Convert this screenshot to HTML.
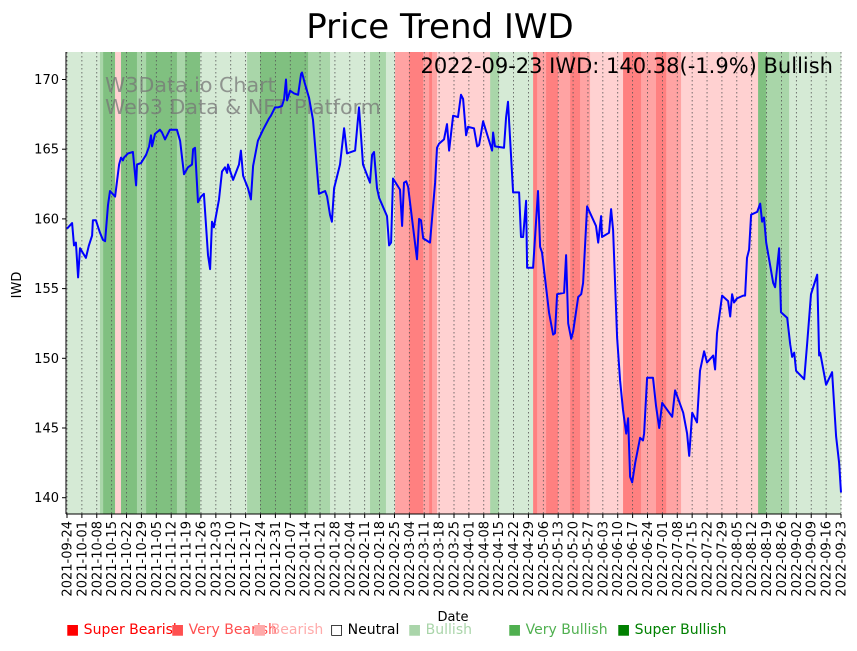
<!DOCTYPE html>
<html><head><meta charset="utf-8"><style>
body{margin:0;background:#fff;width:857px;height:646px;overflow:hidden;font-family:"Liberation Sans","DejaVu Sans",sans-serif}
svg text{font-family:"DejaVu Sans","Liberation Sans",sans-serif}
</style></head><body>
<svg id="chart" width="857" height="646" xmlns="http://www.w3.org/2000/svg">
<g id="bands"></g>
<g id="grid"></g>
<g fill="#777" fill-opacity="0.75" font-size="20.6">
<text x="105" y="92">W3Data.io Chart</text>
<text x="105" y="114">Web3 Data &amp; NFT Platform</text>
</g>
<path id="line" fill="none" stroke="#0000ff" stroke-width="2" stroke-linejoin="round"></path>
<g id="axes"></g>
<text x="440" y="38" text-anchor="middle" font-size="34">Price Trend IWD</text>
<text x="833" y="73" text-anchor="end" font-size="21">2022-09-23 IWD: 140.38(-1.9%) Bullish</text>
<text x="21" y="285" text-anchor="middle" font-size="13" transform="rotate(-90 21 285)">IWD</text>
<text x="453" y="621" text-anchor="middle" font-size="13">Date</text>
<g font-size="14">
<text x="66" y="634" fill="#ff0000">■ Super Bearish</text>
<text x="171" y="634" fill="#ff5050">■ Very Bearish</text>
<text x="253" y="634" fill="#ffaaaa">■ Bearish</text>
<text x="330" y="634" fill="#000">□ Neutral</text>
<text x="408" y="634" fill="#aad5aa">■ Bullish</text>
<text x="508" y="634" fill="#50b050">■ Very Bullish</text>
<text x="617" y="634" fill="#008000">■ Super Bullish</text>
</g>
</svg>
<script>
const days=[0,2.4,3.3,4.2,5.2,6.1,8.9,10.3,11.8,12.2,13.6,15.5,16.9,17.9,19.3,20.2,22.6,24.5,25.4,26.3,26.8,28.7,31,32.5,32.9,34.8,37.2,38.6,39.5,40,41.4,43.7,44.7,46.1,48.4,51.7,53.2,55,56.9,58.8,59.3,60.2,61.6,63,64.4,66.3,67.3,68.2,69.1,71.5,72.9,74.3,75.3,75.7,78.1,80.9,81.8,82.8,85.1,86.5,87.5,89.8,92.2,95,95.9,97.8,99.2,101.1,102.1,103,103.5,104.9,106.8,108.7,110.1,110.5,111.9,113.8,115.7,118.5,121.4,122.3,123.7,124.6,125.6,128.4,130.3,131.7,135.5,137.3,139.2,142.5,143.5,144.4,145.8,146.8,150.5,151.5,152.4,153.3,156.6,157.6,158.5,159.5,160.4,164.6,165.6,166.5,167.5,170.7,173.1,174,175,177.3,178.7,179.7,181.6,183.9,185.3,186.3,187.7,188.6,191.4,192.9,193.8,195.7,199.9,200.4,201.3,205.5,206.5,207.4,209.8,212.6,213.5,214.5,215.9,216.4,219.2,221.5,222.5,223.4,226.7,228.6,229.5,230.5,233.8,234.7,235.7,237.1,238,240.4,241.8,242.7,244.6,248.8,249.8,251.2,251.6,254.9,255.9,256.8,258.7,260.1,261.5,263,263.9,264.8,265.8,267.2,269.5,270.9,271.4,272.8,275.6,277,278.5,279.9,284.6,286,289.8,291.6,292.6,294,296.3,297.7,299.6,301,303.9,304.8,305.7,308.1,310.9,311.9,312.8,313.7,315.1,318,318.9,319.8,320.8,321.7,324.6,326,326.9,327.8,328.8,332.1,333,334.9,335.8,338.7,340.1,341,342,342.9,346.7,348.1,349.9,352.8,353.7,354.2,357,359.8,361.7,363.1,364];
const prices=[159.3,159.7,158.1,158.3,155.8,157.9,157.2,158.1,158.8,159.9,159.9,159.0,158.5,158.4,161.0,162.0,161.6,163.9,164.4,164.2,164.4,164.7,164.8,162.4,163.9,164.0,164.6,165.2,166.0,165.2,166.1,166.4,166.2,165.7,166.4,166.4,165.6,163.2,163.7,163.9,165.0,165.1,161.2,161.6,161.8,157.4,156.4,159.8,159.4,161.4,163.4,163.7,163.3,163.9,162.8,163.9,164.9,163.1,162.2,161.4,163.8,165.6,166.4,167.2,167.4,168.0,168.0,168.1,168.6,170.0,168.5,169.2,169.0,168.9,170.4,170.5,169.7,168.7,167.1,161.8,162.0,161.6,160.3,159.8,162.2,163.9,166.5,164.7,164.9,168.0,163.9,162.6,164.6,164.8,162.2,161.5,160.2,158.1,158.3,162.9,162.1,159.5,162.6,162.7,162.3,157.1,160.0,159.9,158.6,158.3,162.6,165.1,165.4,165.7,166.8,164.9,167.4,167.3,168.9,168.6,166.0,166.6,166.5,165.2,165.3,167.0,164.9,166.2,165.2,165.1,167.3,168.4,161.9,161.9,158.7,158.7,161.3,156.5,156.5,162.0,158.0,157.6,153.3,151.7,151.8,154.6,154.7,157.4,152.5,151.4,151.9,154.4,154.6,155.4,160.9,159.5,158.3,160.2,158.7,159.0,160.7,159.2,151.5,148.4,146.3,144.6,145.7,141.5,141.1,142.5,144.3,144.1,144.6,148.6,148.6,146.6,145.0,146.8,145.8,147.7,146.1,144.6,143.0,146.1,145.4,149.1,150.5,149.7,150.2,149.2,151.8,154.5,154.1,153.0,154.6,154.0,154.3,154.5,154.5,157.2,157.8,160.3,160.5,161.1,159.8,160.1,158.3,155.4,155.1,157.9,153.3,152.9,151.0,150.1,150.4,149.1,148.5,151.1,154.6,156.0,150.2,150.4,148.1,149.0,144.4,142.5,140.38];
const bandStart=[0,15.5,17,22.6,25.4,32.9,37.2,51.7,55.5,62.6,84.7,90.8,113.4,123.7,142.5,150,154.3,160.9,167.5,170.3,171.7,174,199,203.2,219.2,221.1,225.3,230.9,236.6,241.3,246,248.4,261.5,270,277,281.8,288.8,325,328.8,339.6];
const bandEnd=[15.5,17,22.6,25.4,32.9,37.2,51.7,55.5,62.6,84.7,90.8,113.4,123.7,142.5,150,154.3,160.9,167.5,170.3,171.7,174,199,203.2,219.2,221.1,225.3,230.9,236.6,241.3,246,248.4,261.5,270,277,281.8,288.8,325,328.8,339.6,364];
const bandLevel=[1,2,3,-1,3,2,3,2,3,1,2,3,2,1,2,1,-2,-3,-2,-3,-2,-1,2,1,-3,-2,-3,-2,-3,-2,-1,-1,-3,-2,-3,-2,-1,3,2,1];
const yTicks=[140,145,150,155,160,165,170];

const X0=67,X1=841,DMAX=364,Y0=79.5,YPU=13.94;
const xs=d=>X0+(X1-X0)*d/DMAX;
const ys=v=>Y0+(170-v)*YPU;
const NS="http://www.w3.org/2000/svg";
const mk=(t,a,p)=>{const e=document.createElementNS(NS,t);for(const k in a)e.setAttribute(k,a[k]);p.appendChild(e);return e;};
const colors={"1":"#d5ead5","2":"#a9d6a9","3":"#80c080","-1":"#ffd1d1","-2":"#ffa3a3","-3":"#ff8080"};
const PT=52,PB=514;
const bg=document.getElementById('bands');
bandStart.forEach((s,i)=>{
  const r=mk('rect',{x:xs(s),y:PT,width:xs(bandEnd[i])-xs(s)+0.3,height:PB-PT,fill:colors[bandLevel[i]]},bg);
  
  
});
const grid=document.getElementById('grid'),ax=document.getElementById('axes');
const base=Date.UTC(2021,8,24);
for(let d=0;d<=DMAX;d+=7){
  const x=xs(d);
  const g=mk('line',{x1:x,x2:x,y1:PT,y2:PB,stroke:'#555','stroke-width':0.8,'stroke-dasharray':'1.5,2.5'},grid);
  
  
  mk('line',{x1:x,x2:x,y1:PB,y2:PB+4,stroke:'#000'},ax);
  const dt=new Date(base+d*86400000).toISOString().slice(0,10);
  const t=mk('text',{x:x+4.5,y:PB+7,'font-size':13,'text-anchor':'end',transform:`rotate(-90 ${x+4.5} ${PB+7})`},ax);
  
  
  t.textContent=dt;
}
yTicks.forEach(v=>{
  const y=ys(v);
  mk('line',{x1:62,x2:66,y1:y,y2:y,stroke:'#000'},ax);
  const t=mk('text',{x:59,y:y+4.5,'font-size':13,'text-anchor':'end'},ax);
  
  
  t.textContent=v;
});
mk('line',{x1:66,x2:66,y1:PT,y2:PB,stroke:'#000','stroke-width':1},ax);
mk('line',{x1:66,x2:X1,y1:PB,y2:PB,stroke:'#000','stroke-width':1},ax);
document.getElementById('line').setAttribute('d',days.map((d,i)=>(i?'L':'M')+xs(d).toFixed(1)+','+ys(prices[i]).toFixed(1)).join(''));
</script>
</body></html>
